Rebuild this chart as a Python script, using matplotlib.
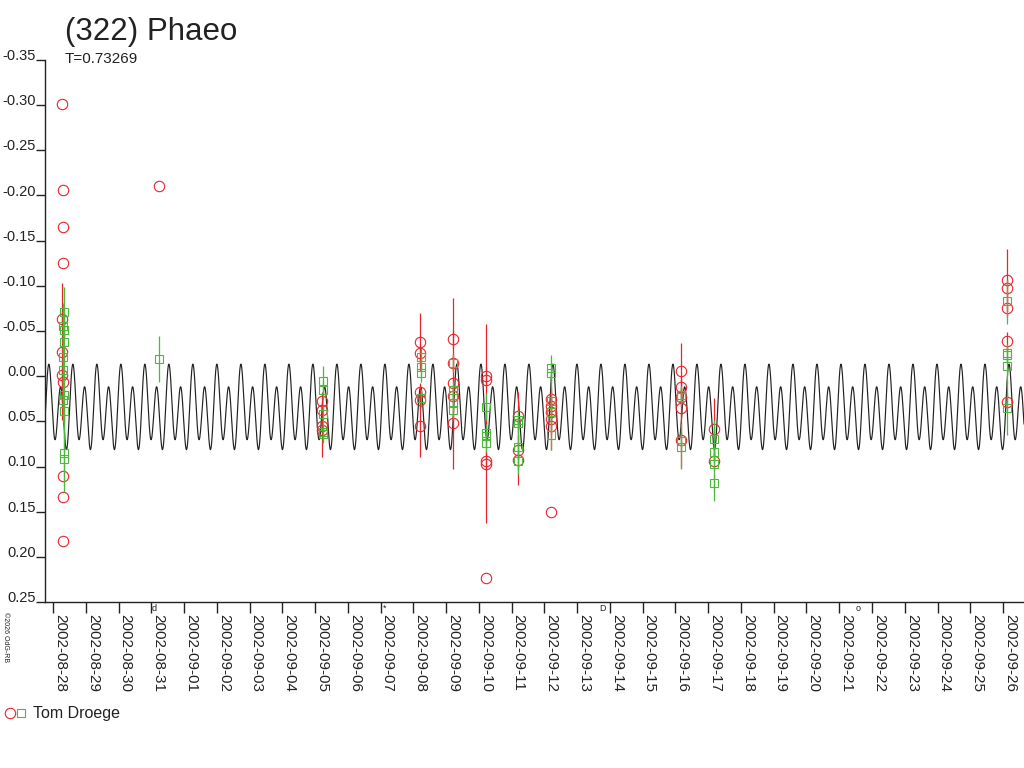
import numpy as np
import matplotlib
matplotlib.use("Agg")
import matplotlib.pyplot as plt
from matplotlib.lines import Line2D

plt.rcParams['font.family'] = ['Liberation Sans', 'DejaVu Sans']

# ---------------- data ----------------
title = "(322) Phaeo"
period = 0.73269          # days
epoch_max = 4.266         # days after 2002-08-28 00:00 UT (brightest peak)
# Fourier model of the lightcurve: c0 + sum(a_k cos + b_k sin)
fourier_c0 = 0.0373
fourier_a = [-0.01255, -0.0380]   # cos terms for k=1,2
fourier_b = [-0.0055, 0.0]        # sin terms for k=1,2

tick_labels = ["2002-08-28", "2002-08-29", "2002-08-30", "2002-08-31", "2002-09-01",
               "2002-09-02", "2002-09-03", "2002-09-04", "2002-09-05", "2002-09-06",
               "2002-09-07", "2002-09-08", "2002-09-09", "2002-09-10", "2002-09-11",
               "2002-09-12", "2002-09-13", "2002-09-14", "2002-09-15", "2002-09-16",
               "2002-09-17", "2002-09-18", "2002-09-19", "2002-09-20", "2002-09-21",
               "2002-09-22", "2002-09-23", "2002-09-24", "2002-09-25", "2002-09-26"]
y_ticks = [-0.35, -0.30, -0.25, -0.20, -0.15, -0.10, -0.05, 0.00, 0.05, 0.10, 0.15, 0.20, 0.25]

# red circles: time (days after 2002-08-28 0h), magnitude, error
red_t = [0.29, 0.30, 0.30, 0.30, 0.28, 0.28, 0.27, 0.31, 0.31, 0.31, 0.31,
         3.245,
         8.22, 8.22, 8.22, 8.22,
         11.21, 11.21, 11.21, 11.21, 11.21,
         12.21, 12.21, 12.21, 12.21, 12.21,
         13.21, 13.21, 13.21, 13.21, 13.21,
         14.20, 14.20, 14.20,
         15.19, 15.19, 15.19, 15.19, 15.19, 15.19,
         19.18, 19.18, 19.18, 19.18, 19.18,
         20.17, 20.17,
         29.13, 29.13, 29.13, 29.13, 29.13]
red_m = [-0.301, -0.206, -0.165, -0.125, -0.063, -0.027, -0.001, 0.007, 0.110, 0.134, 0.183,
         -0.211,
         0.028, 0.038, 0.055, 0.060,
         -0.038, -0.026, 0.018, 0.026, 0.055,
         -0.041, -0.015, 0.008, 0.022, 0.052,
         0.000, 0.004, 0.094, 0.097, 0.223,
         0.044, 0.082, 0.093,
         0.025, 0.033, 0.040, 0.047, 0.055, 0.150,
         -0.006, 0.012, 0.023, 0.035, 0.071,
         0.059, 0.094,
         -0.106, -0.098, -0.076, -0.039, 0.029]
red_e = [0.0, 0.0, 0.0, 0.0, 0.01, 0.076, 0.01, 0.01, 0.0, 0.0, 0.0,
         0.0,
         0.01, 0.01, 0.01, 0.030,
         0.032, 0.01, 0.01, 0.01, 0.035,
         0.01, 0.01, 0.095, 0.01, 0.01,
         0.01, 0.062, 0.01, 0.066, 0.0,
         0.027, 0.01, 0.028,
         0.01, 0.01, 0.01, 0.035, 0.01, 0.0,
         0.031, 0.01, 0.01, 0.01, 0.031,
         0.035, 0.01,
         0.035, 0.01, 0.01, 0.01, 0.01]

# green squares
grn_t = [0.33, 0.32, 0.33, 0.33, 0.32, 0.31, 0.33, 0.32, 0.33, 0.34, 0.34,
         3.25,
         8.23, 8.23, 8.23, 8.23, 8.23,
         11.22, 11.22, 11.22, 11.22,
         12.21, 12.21, 12.21, 12.21, 12.21,
         13.22, 13.22, 13.22, 13.22,
         14.20, 14.20, 14.20, 14.20,
         15.19, 15.19, 15.19, 15.19, 15.19,
         19.18, 19.18, 19.18, 19.18,
         20.17, 20.17, 20.17, 20.17,
         29.13, 29.13, 29.13, 29.13, 29.13]
grn_m = [-0.071, -0.056, -0.051, -0.038, -0.021, -0.007, 0.021, 0.026, 0.039, 0.085, 0.092,
         -0.019,
         0.005, 0.015, 0.042, 0.062, 0.064,
         -0.021, -0.010, -0.004, 0.024,
         -0.015, 0.015, 0.021, 0.030, 0.037,
         0.034, 0.063, 0.066, 0.074,
         0.048, 0.052, 0.078, 0.094,
         -0.009, -0.003, 0.028, 0.040, 0.065,
         0.021, 0.023, 0.072, 0.078,
         0.070, 0.084, 0.097, 0.118,
         -0.083, -0.026, -0.023, -0.011, 0.035]
grn_e = [0.028, 0.025, 0.02, 0.03, 0.03, 0.035, 0.03, 0.025, 0.03, 0.043, 0.03,
         0.025,
         0.016, 0.01, 0.01, 0.01, 0.01,
         0.01, 0.01, 0.01, 0.01,
         0.01, 0.01, 0.01, 0.01, 0.01,
         0.015, 0.01, 0.01, 0.01,
         0.01, 0.01, 0.03, 0.01,
         0.014, 0.01, 0.03, 0.01, 0.017,
         0.01, 0.01, 0.01, 0.025,
         0.021, 0.01, 0.041, 0.01,
         0.025, 0.01, 0.01, 0.02, 0.03]

observer = "Tom Droege"
# moon phases (days after 2002-08-28 0h): last quarter, new, first quarter, full
moon_t = [3.10, 10.13, 16.76, 24.58]
moon_sym = ["d", "*", "D", "o"]

# ---------------- figure ----------------
fig = plt.figure(figsize=(10.24, 7.68), dpi=100)
ax = fig.add_axes([45/1024, 1-602/768, 1-45/1024, (602-60)/768])

red_c = '#E8242C'
grn_c = '#4DB83C'
ink = '#222222'

t = np.linspace(-0.244, 29.64, 8000)
ph = 2*np.pi*(t - epoch_max)/period
model = fourier_c0 + sum(fourier_a[k]*np.cos((k+1)*ph) + fourier_b[k]*np.sin((k+1)*ph)
                         for k in range(len(fourier_a)))
ax.plot(t, model, color=ink, lw=0.85, zorder=1)

ax.errorbar(red_t, red_m, yerr=red_e, fmt='o', ms=7.5, mfc='none', mec=red_c, mew=0.8,
            ecolor=red_c, elinewidth=0.9, capsize=0, zorder=2)
ax.errorbar(grn_t, grn_m, yerr=grn_e, fmt='s', ms=6.2, mfc='none', mec=grn_c, mew=0.8,
            ecolor=grn_c, elinewidth=0.9, capsize=0, zorder=3)

ax.set_xlim(-0.244, 29.64)
ax.set_ylim(0.25, -0.35)
ax.set_yticks(y_ticks)
ax.set_yticklabels([f"{v:.2f}" for v in y_ticks])
ax.set_xticks(range(len(tick_labels)))
ax.set_xticklabels(tick_labels)

for s in ['top', 'right']:
    ax.spines[s].set_visible(False)
for s in ['left', 'bottom']:
    ax.spines[s].set_color(ink)
    ax.spines[s].set_linewidth(1.0)

ax.tick_params(axis='y', direction='out', length=6.5, width=1.0, color=ink,
               labelsize=10.5, labelcolor=ink, pad=0)
ax.tick_params(axis='x', direction='out', length=8, width=1.0, color=ink,
               labelsize=11, labelcolor=ink, pad=1)
for lbl in ax.get_yticklabels():
    lbl.set_va('baseline')
for lbl in ax.get_xticklabels():
    lbl.set_rotation(-90)
    lbl.set_ha('left')
    lbl.set_va('top')

for mt, sym in zip(moon_t, moon_sym):
    ax.text(mt, -0.012, sym, transform=ax.get_xaxis_transform(), fontsize=6.5,
            color=ink, ha='center', va='center')

fig.text(65/1024, 1-40/768, title, fontsize=22.5, color=ink, ha='left', va='baseline')
fig.text(65/1024, 1-63/768, f"T={period}", fontsize=11, color=ink, ha='left', va='baseline')
fig.text(2/1024, 1-612/768, "©2026 OdG-RB", rotation=-90, fontsize=5, color=ink,
         ha='left', va='top')

fig.add_artist(Line2D([10/1024], [1-713/768], marker='o', ms=7.5, mfc='none', mec=red_c,
                      mew=0.8, ls='none', transform=fig.transFigure))
fig.add_artist(Line2D([21/1024], [1-713/768], marker='s', ms=6.2, mfc='none', mec=grn_c,
                      mew=0.8, ls='none', transform=fig.transFigure))
fig.text(33/1024, 1-718/768, observer, fontsize=11.5, color=ink, ha='left', va='baseline')

fig.savefig("out.png", dpi=100)
